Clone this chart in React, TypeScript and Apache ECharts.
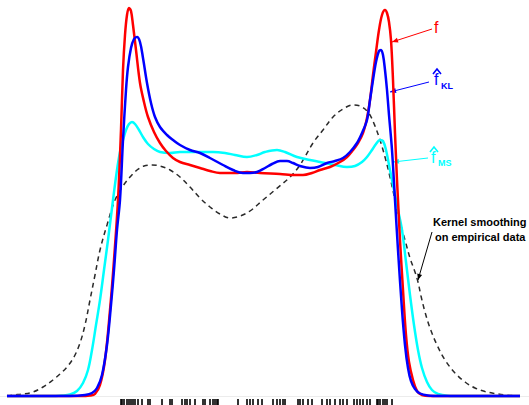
import React, { useEffect, useRef } from "react";
import * as echarts from "echarts";

// Curves: [x, height above baseline] (x in px units, height = 396 - ypix)
const redPts: [number, number][] = [
  [7,396],[80,396],[90,395.5],[95,394],[100,385],[105,360],[110,310],[114,260],[118,200],[121,130],[123,70],[125,35],[127,15],[129,8],[131,11],[133,25],[136,50],[140,83],[144,102],[148,117],[154,132],[160,143],[166,151],[173,158],[180,162],[190,165],[200,168],[210,171],[220,173],[235,173],[247,172],[260,173],[280,174],[295,175],[303,175],[312,173],[320,170],[330,167],[340,162],[347,157],[353,150],[358,143],[363,133],[367,118],[370,100],[373,75],[376,52],[379,30],[382,15],[385,10],[387,13],[389,22],[391,40],[393,80],[395,133],[397,180],[398,200],[400,240],[403,290],[406,335],[409,362],[413,380],[417,391],[422,395],[430,396],[440,396],[520,396]
];
const bluePts: [number, number][] = [
  [7,396],[70,396],[85,395],[92,393],[97,388],[102,375],[107,345],[111,305],[114,270],[117,230],[120,200],[123,140],[126,90],[128,67],[131,48],[134,39],[137,37],[140,42],[143,58],[147,83],[151,103],[155,117],[160,127],[167,135],[173,140],[180,145],[190,150],[200,153],[210,158],[223,165],[233,170],[243,173],[250,173],[257,172],[265,168],[272,164],[280,161],[287,161],[293,163],[300,166],[310,168],[318,167],[327,163],[335,161],[343,158],[350,152],[357,143],[362,133],[367,120],[370,100],[373,80],[376,62],[379,51],[381,50],[383,55],[385,70],[387,90],[389,115],[392,150],[395,200],[398,250],[402,310],[405,345],[408,368],[411,381],[415,389],[420,393.5],[428,395.5],[440,396],[520,396]
];
const cyanPts: [number, number][] = [
  [7,396],[50,396],[62,395.5],[70,394.5],[77,391],[83,383],[88,370],[92,350],[96,325],[100,300],[104,270],[108,240],[113,200],[117,170],[120,152],[123,140],[126,130],[129,124],[132,122],[135,124],[139,130],[143,137],[148,144],[154,149],[160,152],[170,153],[180,152],[195,152],[213,152],[225,153],[235,155],[247,157],[257,155],[265,152],[277,150],[285,152],[297,157],[310,160],[320,162],[335,165],[347,167],[355,166],[362,162],[367,157],[372,150],[376,144],[380,140],[383,141],[386,150],[390,170],[394,190],[398,210],[402,230],[406,262],[410,295],[414,325],[418,350],[422,368],[427,382],[432,390],[438,394],[448,395.7],[460,396],[520,396]
];
const kernelPts: [number, number][] = [
  [7,396],[13,395],[23,394],[33,392],[43,387],[53,380],[60,374],[67,367],[74,357],[80,343],[85,325],[90,300],[95,275],[100,250],[107,225],[115,200],[123,186],[130,177],[137,170],[144,166],[152,165],[160,166],[170,170],[180,177],[190,187],[200,198],[210,207],[220,214],[230,218],[240,216],[250,211],[263,200],[275,190],[290,177],[300,165],[313,143],[323,130],[333,117],[343,109],[353,105],[360,106],[365,109],[370,115],[375,126],[380,140],[385,157],[390,177],[395,200],[400,222],[405,240],[410,258],[415,272],[418,282],[421,296],[425,312],[430,328],[437,345],[445,360],[455,373],[465,382],[475,388],[485,391.5],[495,393.5],[505,395],[515,395.8],[520,396]
];
// Rug: positions of empirical data points
const rugX: number[] = [
  121,122,124,127,129,131,133,135,138,142,148,150,162,170,172,182,185,187,190,195,203,205,210,213,215,217,218,238,247,250,253,258,262,273,277,280,283,285,298,300,303,308,312,322,327,330,335,340,343,347,354,357,360,363,367,370,377,378,380,383,385,387,392
];

const BASE = 396;
const toData = (pts: [number, number][]) => pts.map(([x, y]) => [x, BASE - y]);

function arrowHead(x1: number, y1: number, x2: number, y2: number, len = 6, w = 2.5) {
  const dx = x2 - x1, dy = y2 - y1;
  const d = Math.hypot(dx, dy);
  const ux = dx / d, uy = dy / d;
  const bx = x2 - ux * len, by = y2 - uy * len;
  return [[x2, y2], [bx - uy * w, by + ux * w], [bx + uy * w, by - ux * w]];
}

function arrow(x1: number, y1: number, x2: number, y2: number, color: string) {
  return [
    { type: "line", shape: { x1, y1, x2, y2 }, style: { stroke: color, lineWidth: 1 } },
    { type: "polygon", shape: { points: arrowHead(x1, y1, x2, y2) }, style: { fill: color } },
  ];
}

function hat(x: number, y: number, color: string) {
  return {
    type: "polyline",
    shape: { points: [[x, y + 5], [x + 4, y], [x + 8, y + 5]] },
    style: { stroke: color, lineWidth: 1.6, fill: null },
  };
}

const FONT = "Liberation Sans, Arial, sans-serif";

export default function App() {
  const ref = useRef<HTMLDivElement>(null);
  useEffect(() => {
    if (!ref.current) return;
    const chart = echarts.init(ref.current, null, { renderer: "svg" });
    const lineS = (data: number[][], color: string, width: number, type: any = "solid", z = 2) => ({
      type: "line",
      data,
      smooth: 0.35,
      showSymbol: false,
      symbol: "none",
      z,
      lineStyle: { color, width, type },
    });
    chart.setOption({
      animation: false,
      backgroundColor: "#ffffff",
      grid: { left: 0, right: 0, top: 0, bottom: 0 },
      xAxis: { type: "value", min: 0, max: 529, show: true, axisLine: { show: true, onZero: true, lineStyle: { color: "#ececec", width: 1 } }, axisTick: { show: false }, axisLabel: { show: false }, splitLine: { show: false } },
      yAxis: { type: "value", min: -9, max: 396, show: false, splitLine: { show: false } },
      series: [
        lineS(toData(kernelPts), "#2a2a2a", 1.5, [5, 4], 1),
        lineS(toData(cyanPts), "#00ffff", 2.5, "solid", 2),
        lineS(toData(redPts), "#ff0000", 2.5, "solid", 3),
        lineS(toData(bluePts), "#0000ff", 2.5, "solid", 4),
        {
          type: "scatter",
          data: rugX.map((x) => [x, -6.5]),
          symbol: "rect",
          symbolSize: [2, 7],
          itemStyle: { color: "#000000" },
          z: 5,
        },
      ],
      graphic: [
        ...arrow(432, 29, 392, 42, "#ff0000"),
        { type: "text", x: 434, y: 19, style: { text: "f", fill: "#ff0000", font: `16px ${FONT}` } },
        ...arrow(429, 82, 390, 92, "#0000ff"),
        hat(433, 69, "#0000ff"),
        { type: "text", x: 434, y: 71, style: { text: "f", fill: "#0000ff", font: `16px ${FONT}` } },
        { type: "text", x: 441, y: 81, style: { text: "KL", fill: "#0000ff", font: `bold 9px ${FONT}` } },
        ...arrow(428, 158, 393, 162, "#00ffff"),
        hat(430, 147, "#00ffff"),
        { type: "text", x: 431, y: 149, style: { text: "f", fill: "#00ffff", font: `16px ${FONT}` } },
        { type: "text", x: 438, y: 158, style: { text: "MS", fill: "#00ffff", font: `bold 9px ${FONT}` } },
        ...arrow(432, 232, 418, 280, "#000000"),
        { type: "text", x: 433, y: 216, style: { text: "Kernel smoothing", fill: "#000000", font: `bold 11px ${FONT}` } },
        { type: "text", x: 435, y: 231, style: { text: "on empirical data", fill: "#000000", font: `bold 11px ${FONT}` } },
      ],
    });
    return () => chart.dispose();
  }, []);
  return <div ref={ref} style={{ position: "fixed", left: 0, top: 0, width: 529, height: 405 }} />;
}
